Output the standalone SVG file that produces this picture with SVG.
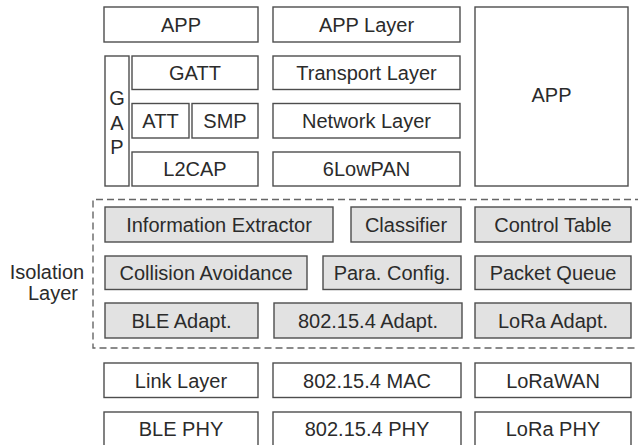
<svg xmlns="http://www.w3.org/2000/svg" width="638" height="445" viewBox="0 0 638 445">
<style>
.b{fill:#ffffff;stroke:#4d4d4d;stroke-width:1.4}
.g{fill:#e2e2e2;stroke:#4d4d4d;stroke-width:1.4}
text{font-family:"Liberation Sans",Arial,sans-serif;font-size:20px;fill:#2b2b2b;text-anchor:middle}
.d{fill:none;stroke:#666666;stroke-width:1.4;stroke-dasharray:7 4}
</style>
<rect width="638" height="445" fill="#ffffff"/>
<g id="connectors">
<path class="d" d="M642 199.5 H93 V348 H642"/>
</g>
<g id="app-ble"><rect class="b" x="104" y="7" width="154" height="35"/><text x="181" y="31.7">APP</text></g>
<g id="app-layer"><rect class="b" x="273" y="7" width="187" height="35"/><text x="366.5" y="31.7">APP Layer</text></g>
<g id="app-lora"><rect class="b" x="475" y="7" width="153" height="179"/><text x="551.5" y="102">APP</text></g>
<g id="gap"><rect class="b" x="105" y="56" width="24" height="130"/><text x="117" y="105">G</text><text x="117" y="129.5">A</text><text x="117" y="153.5">P</text></g>
<g id="gatt"><rect class="b" x="132" y="56" width="126" height="33.5"/><text x="195" y="79.9">GATT</text></g>
<g id="transport"><rect class="b" x="273" y="56" width="187" height="33.5"/><text x="366.5" y="79.9">Transport Layer</text></g>
<g id="att"><rect class="b" x="132" y="103.5" width="57" height="34.5"/><text x="160.5" y="127.9">ATT</text></g>
<g id="smp"><rect class="b" x="192" y="103.5" width="66" height="34.5"/><text x="225" y="127.9">SMP</text></g>
<g id="network"><rect class="b" x="273" y="103.5" width="187" height="34.5"/><text x="366.5" y="127.9">Network Layer</text></g>
<g id="l2cap"><rect class="b" x="132" y="152" width="126" height="34"/><text x="195" y="176.2">L2CAP</text></g>
<g id="6lowpan"><rect class="b" x="273" y="152" width="187" height="34"/><text x="366.5" y="176.2">6LowPAN</text></g>
<g id="isolation-label"><text x="47" y="279.3">Isolation</text><text x="53" y="299.5">Layer</text></g>
<g id="info-extractor"><rect class="g" x="105" y="207" width="228" height="35"/><text x="219" y="231.7">Information Extractor</text></g>
<g id="classifier"><rect class="g" x="351" y="207" width="110" height="35"/><text x="406" y="231.7">Classifier</text></g>
<g id="control-table"><rect class="g" x="475" y="207" width="156" height="35"/><text x="553" y="231.7">Control Table</text></g>
<g id="collision"><rect class="g" x="105" y="256" width="202" height="33.5"/><text x="206" y="279.9">Collision Avoidance</text></g>
<g id="para-config"><rect class="g" x="323" y="256" width="138" height="33.5"/><text x="392" y="279.9">Para. Config.</text></g>
<g id="packet-queue"><rect class="g" x="475" y="256" width="156" height="33.5"/><text x="553" y="279.9">Packet Queue</text></g>
<g id="ble-adapt"><rect class="g" x="105" y="303" width="153" height="35"/><text x="181.5" y="327.7">BLE Adapt.</text></g>
<g id="wpan-adapt"><rect class="g" x="274" y="303" width="188" height="35"/><text x="368" y="327.7">802.15.4 Adapt.</text></g>
<g id="lora-adapt"><rect class="g" x="475" y="303" width="156" height="35"/><text x="553" y="327.7">LoRa Adapt.</text></g>
<g id="link-layer"><rect class="b" x="104" y="363" width="154" height="34.5"/><text x="181" y="387.5">Link Layer</text></g>
<g id="wpan-mac"><rect class="b" x="273" y="363" width="188" height="34.5"/><text x="367" y="387.5">802.15.4 MAC</text></g>
<g id="lorawan"><rect class="b" x="475" y="363" width="156" height="34.5"/><text x="553" y="387.5">LoRaWAN</text></g>
<g id="ble-phy"><rect class="b" x="104" y="412" width="154" height="40"/><text x="181" y="436">BLE PHY</text></g>
<g id="wpan-phy"><rect class="b" x="273" y="412" width="188" height="40"/><text x="367" y="436">802.15.4 PHY</text></g>
<g id="lora-phy"><rect class="b" x="475" y="412" width="156" height="40"/><text x="553" y="436">LoRa PHY</text></g>
</svg>
